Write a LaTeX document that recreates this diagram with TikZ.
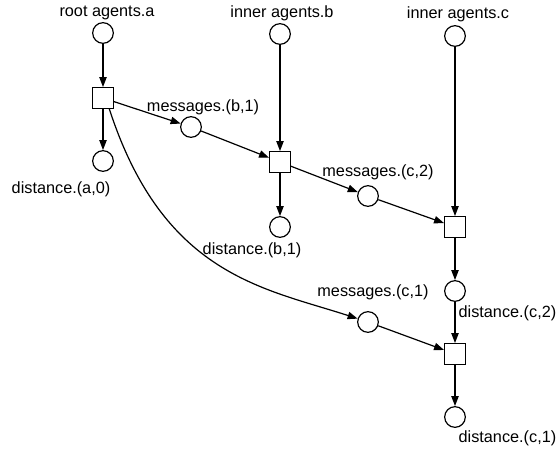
\documentclass[tikz,border=0pt]{standalone}
\usepackage{fontspec}
\setmainfont{Liberation Sans}
\usetikzlibrary{arrows.meta}
\begin{document}
\begin{tikzpicture}[x=0.75pt,y=0.75pt,line width=0.9pt,
  place/.style={draw,circle,minimum size=15.5pt,inner sep=0pt},
  trans/.style={draw,rectangle,minimum size=15.5pt,inner sep=0pt},
  lbl/.style={inner sep=0pt,font=\fontsize{12.2}{14}\selectfont},
  arc/.style={-{Triangle[length=7.5pt,width=5.5pt]}}]
\useasboundingbox (0,0) rectangle (557,-450);
% places
\node[place] (pa) at (103,-33) {};
\node[place] (pb) at (280,-34) {};
\node[place] (pc) at (455,-36) {};
\node[place] (da) at (103,-161) {};
\node[place] (mb1) at (191,-127) {};
\node[place] (db1) at (280,-227) {};
\node[place] (mc2) at (368,-196) {};
\node[place] (dc2) at (455,-291) {};
\node[place] (mc1) at (368,-322) {};
\node[place] (dc1) at (455,-417) {};
% transitions
\node[trans] (ta) at (103,-98) {};
\node[trans] (tb) at (280,-162) {};
\node[trans] (tc2) at (455,-227) {};
\node[trans] (tc1) at (455,-354) {};
% labels
\node[lbl] (l1) at (107,-13) {root agents.a};
\node[lbl] (l2) at (282,-13) {inner agents.b};
\node[lbl] (l3) at (458,-14) {inner agents.c};
\node[lbl] (l4) at (61,-189) {distance.(a,0)};
\node[lbl] (l5) at (203,-107) {messages.(b,1)};
\node[lbl] (l6) at (252,-250) {distance.(b,1)};
\node[lbl] (l7) at (378,-172) {messages.(c,2)};
\node[lbl] (l8) at (373,-292) {messages.(c,1)};
\node[lbl,anchor=west] (l9) at (458,-313) {distance.(c,2)};
\node[lbl,anchor=west] (l10) at (458,-438) {distance.(c,1)};
% arcs
\draw[arc] (pa) -- (ta);
\draw[arc] (ta) -- (da);
\draw[arc] (ta) -- (mb1);
\draw[arc] (mb1) -- (tb);
\draw[arc] (pb) -- (tb);
\draw[arc] (tb) -- (db1);
\draw[arc] (tb) -- (mc2);
\draw[arc] (mc2) -- (tc2);
\draw[arc] (pc) -- (tc2);
\draw[arc] (tc2) -- (dc2);
\draw[arc] (dc2) -- (tc1);
\draw[arc] (mc1) -- (tc1);
\draw[arc] (tc1) -- (dc1);
\draw[arc] (ta.-60) .. controls +(-72:175) and +(162:110) .. (mc1);
\end{tikzpicture}
\end{document}
